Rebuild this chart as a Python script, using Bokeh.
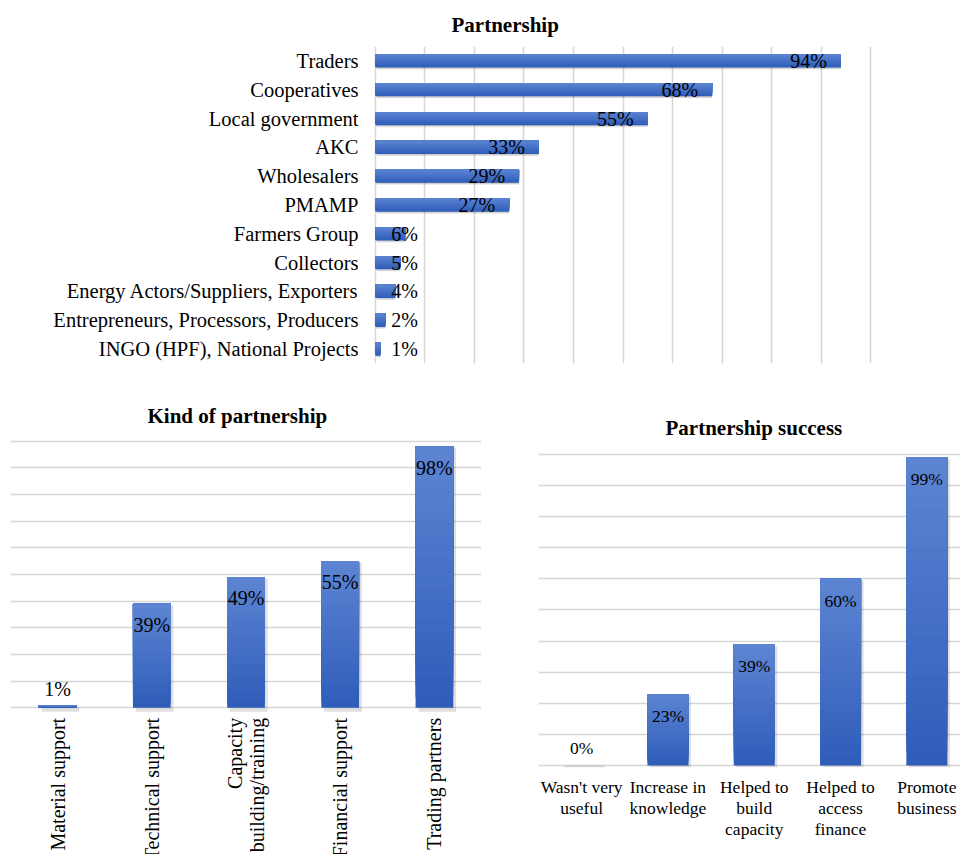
import math
from bokeh.plotting import figure
from bokeh.layouts import column, row
from bokeh.models import ColumnDataSource, FactorRange, Range1d, FixedTicker
from bokeh.transform import dodge
from bokeh.embed import file_html
from bokeh.resources import INLINE
from bokeh.core.properties import value

# ---- data -------------------------------------------------------------
partners = ["Traders", "Cooperatives", "Local government", "AKC", "Wholesalers",
            "PMAMP", "Farmers Group", "Collectors",
            "Energy Actors/Suppliers, Exporters",
            "Entrepreneurs, Processors, Producers",
            "INGO (HPF), National Projects"]
partner_pct = [94, 68, 55, 33, 29, 27, 6, 5, 4, 2, 1]

kinds = ["Material support", "Technical support", "Capacity\nbuilding/training",
         "Financial support", "Trading partners"]
kind_pct = [1, 39, 49, 55, 98]

outcomes = ["Wasn't very\nuseful", "Increase in\nknowledge", "Helped to\nbuild\ncapacity",
            "Helped to\naccess\nfinance", "Promote\nbusiness"]
outcome_pct = [0, 23, 39, 60, 99]

# ---- styling ----------------------------------------------------------
FONT = "Liberation Serif"
LIGHT = (0x5C, 0x84, 0xD2)
DARK = (0x2F, 0x5D, 0xB9)
GRID = "#d6d6d6"
N_SHADE = 24
GRID_TICKS = list(range(0, 101, 10))


def blend(a, b, t):
    return "#%02x%02x%02x" % tuple(int(round(a[i] + (b[i] - a[i]) * t)) for i in range(3))


def base_figure(**kw):
    p = figure(output_backend="svg", toolbar_location=None, **kw)
    p.outline_line_color = None
    p.background_fill_color = "white"
    p.border_fill_color = "white"
    return p


def style_title(p, text, offset, standoff):
    p.title.text = text
    p.title.align = "left"
    p.title.offset = offset
    p.title.standoff = standoff
    p.title.text_font = FONT
    p.title.text_font_style = "bold"
    p.title.text_font_size = "21px"
    p.title.text_color = "black"


# ---- top: horizontal bars ---------------------------------------------
top = base_figure(width=960, height=385,
                  y_range=FactorRange(*partners[::-1]), x_range=Range1d(-0.6, 101),
                  min_border_left=372, min_border_right=85,
                  min_border_top=46, min_border_bottom=22)
style_title(top, "Partnership", 79, 20)

psrc = ColumnDataSource(dict(
    cat=partners,
    v=partner_pct,
    lx=[max(v, 11.4) for v in partner_pct],
    lab=["%d%%" % v for v in partner_pct],
))

BAR_H = 0.46
# soft drop shadow
top.hbar(y=dodge("cat", -0.07, range=top.y_range), left=0.3, right="v",
         height=BAR_H, source=psrc, fill_color="black", fill_alpha=0.10, line_color=None)
top.hbar(y=dodge("cat", -0.04, range=top.y_range), left=0.2, right="v",
         height=BAR_H, source=psrc, fill_color="black", fill_alpha=0.10, line_color=None)
# gradient fill: darker lower edge, lighter upper edge
for k in range(N_SHADE):
    h = BAR_H * (N_SHADE - k) / N_SHADE
    off = BAR_H / 2 - h / 2
    top.hbar(y=dodge("cat", off, range=top.y_range), left=0, right="v", height=h,
             source=psrc, fill_color=blend(DARK, LIGHT, k / (N_SHADE - 1)),
             line_color=None)

top.text(x="lx", y="cat", text="lab", source=psrc, x_offset=-14,
         text_align="right", text_baseline="middle",
         text_font=value(FONT), text_font_size="20px", text_color="black")

top.xaxis.visible = False
top.xgrid.ticker = FixedTicker(ticks=GRID_TICKS)
top.xgrid.grid_line_color = GRID
top.xgrid.grid_line_width = 1.5
top.ygrid.grid_line_color = None
ya = top.yaxis[0]
ya.axis_line_color = None
ya.major_tick_line_color = None
ya.minor_tick_line_color = None
ya.major_tick_out = 0
ya.major_label_standoff = 14
ya.major_label_text_font = FONT
ya.major_label_text_font_size = "20.5px"
ya.major_label_text_color = "black"


# ---- helpers for the vertical bar charts ------------------------------
def gradient_columns(p, xs, vals, width):
    seg = dict(x=[], bottom=[], top=[], color=[])
    for k in range(N_SHADE):
        for x, v in zip(xs, vals):
            seg["x"].append(x)
            seg["bottom"].append(v * k / N_SHADE)
            seg["top"].append(v)
            seg["color"].append(blend(DARK, LIGHT, k / (N_SHADE - 1)))
    p.vbar(x="x", bottom="bottom", top="top", width=width, source=ColumnDataSource(seg),
           fill_color="color", line_color=None)


def value_labels(p, xs, vals, size, inside_off, outside_off):
    inside = [(x, v) for x, v in zip(xs, vals) if v >= 10]
    outside = [(x, v) for x, v in zip(xs, vals) if v < 10]
    common = dict(text_font=value(FONT), text_font_size=size, text_color="black",
                  text_align="center")
    if inside:
        s = ColumnDataSource(dict(x=[a for a, _ in inside], y=[b for _, b in inside],
                                  t=["%d%%" % b for _, b in inside]))
        p.text(x="x", y="y", text="t", source=s, y_offset=inside_off,
               text_baseline="top", **common)
    if outside:
        s = ColumnDataSource(dict(x=[a for a, _ in outside], y=[b for _, b in outside],
                                  t=["%d%%" % b for _, b in outside]))
        p.text(x="x", y="y", text="t", source=s, y_offset=-outside_off,
               text_baseline="alphabetic", **common)


def style_value_grid(p):
    p.yaxis.visible = False
    p.ygrid.ticker = FixedTicker(ticks=GRID_TICKS)
    p.ygrid.grid_line_color = GRID
    p.ygrid.grid_line_width = 1.5
    p.xgrid.grid_line_color = None


# ---- bottom left: kind of partnership ---------------------------------
# the value range reaches below zero so the upright category names have room
bl = base_figure(width=500, height=469,
                 x_range=FactorRange(*kinds), y_range=Range1d(-55, 101),
                 min_border_left=10, min_border_right=19,
                 min_border_top=53, min_border_bottom=0)
style_title(bl, "Kind of partnership", 137, 22)
style_value_grid(bl)

kshadow = ColumnDataSource(dict(cat=kinds, v=[max(v - 0.6, 0) for v in kind_pct]))
bl.vbar(x=dodge("cat", 0.03, range=bl.x_range), bottom=-1.5, top="v", width=0.4,
        source=kshadow, fill_color="black", fill_alpha=0.12, line_color=None)
gradient_columns(bl, kinds, kind_pct, 0.4)
value_labels(bl, kinds, kind_pct, "20px", 10, 16)

bl.xaxis.visible = False
bl.text(x="cat", y=0, text="cat", source=ColumnDataSource(dict(cat=kinds)),
        angle=math.pi / 2, y_offset=10,
        text_align="right", text_baseline="middle",
        text_font=value(FONT), text_font_size="20px",
        text_color="black", text_line_height=1.0)

# ---- bottom right: partnership success --------------------------------
br = base_figure(width=460, height=469,
                 x_range=Range1d(-0.5, 4.39), y_range=Range1d(-0.63, 100.87),
                 min_border_left=38, min_border_right=0,
                 min_border_top=66, min_border_bottom=87)
style_title(br, "Partnership success", 127, 24)
style_value_grid(br)

oidx = list(range(len(outcomes)))
oshadow = ColumnDataSource(dict(x=[i + 0.03 for i in oidx],
                                v=[max(v - 0.6, 0) for v in outcome_pct]))
br.vbar(x="x", bottom=-1.0, top="v", width=0.475, source=oshadow,
        fill_color="black", fill_alpha=0.12, line_color=None)
gradient_columns(br, oidx, outcome_pct, 0.475)
value_labels(br, oidx, outcome_pct, "17.5px", 12, 18)

xa = br.xaxis[0]
xa.ticker = FixedTicker(ticks=oidx)
xa.major_label_overrides = {i: name for i, name in zip(oidx, outcomes)}
xa.axis_line_color = None
xa.major_tick_line_color = None
xa.minor_tick_line_color = None
xa.major_tick_out = 0
xa.major_label_standoff = 9
xa.major_label_text_font = FONT
xa.major_label_text_font_size = "17.5px"
xa.major_label_text_color = "black"
xa.major_label_text_line_height = 1.06

layout = column(top, row(column(bl), column(br)))
open("out.html", "w").write(file_html(layout, INLINE))
